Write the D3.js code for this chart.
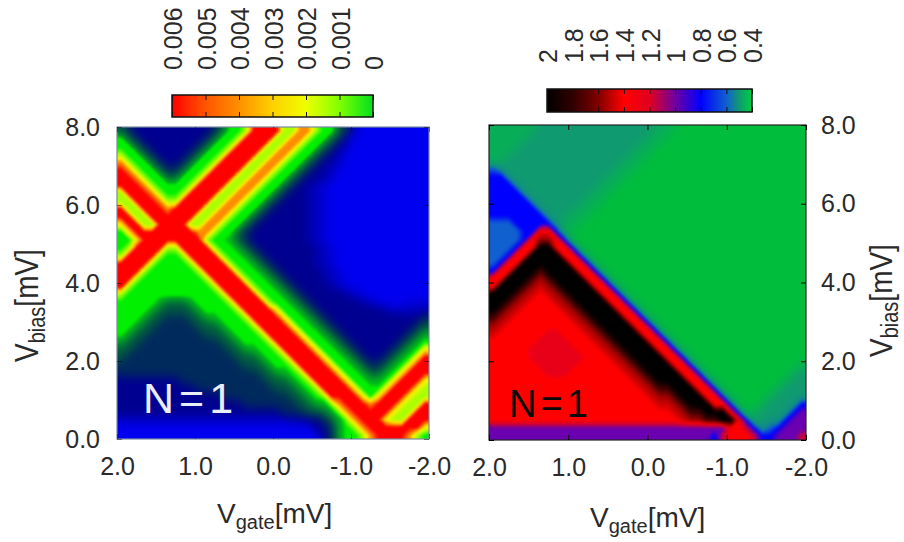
<!DOCTYPE html>
<html>
<head>
<meta charset="utf-8">
<script src="https://d3js.org/d3.v7.min.js"></script>
<style>
  body { margin: 0; background: #fff; }
  text { font-family: "Liberation Sans", sans-serif; fill: #2a2a2a; }
</style>
</head>
<body>
<div class="container"></div>
<script>
// axis values, same for both maps
const gateTicks = [2, 1, 0, -1, -2];
const gateLabels = ["2.0", "1.0", "0.0", "-1.0", "-2.0"];
const biasTicks = [8, 6, 4, 2, 0];
const biasLabels = ["8.0", "6.0", "4.0", "2.0", "0.0"];

// colour bars
const leftBarValues = [0.006, 0.005, 0.004, 0.003, 0.002, 0.001, 0];
const leftBarLabels = ["0.006", "0.005", "0.004", "0.003", "0.002", "0.001", "0"];
const leftBarColors = ["#ff0000", "#ff5500", "#ff9000", "#ffd000", "#eeff00", "#80ff00", "#00e020"];

const rightBarTicks = [2, 1.8, 1.6, 1.4, 1.2, 1, 0.8, 0.6, 0.4];
const rightBarLabels = ["2", "1.8", "1.6", "1.4", "1.2", "1", "0.8", "0.6", "0.4"];
const rightBarValues = [2, 1.8, 1.6, 1.4, 1.2, 1, 0.8, 0.6, 0.5, 0.4];
const rightBarColors = ["#000000", "#300000", "#800000", "#ff0000", "#e00020", "#7000a0", "#0000ff", "#1060d0", "#109a70", "#00d040"];

// colour of each level used in the two grids below
const leftLevelColors = ["#0000f0", "#000090", "#002a5c", "#005a40", "#00aa20", "#00f000", "#aaff00", "#fff000", "#ff8c00", "#ff0000"];
const rightLevelColors = ["#00bd3c", "#08ad58", "#109a70", "#1060d0", "#0000ff", "#6a00b0", "#d00030", "#ff0000", "#a00000", "#400000", "#000000"];

// maps, top row first, ten cells per block
// one hex digit = one level, w x y r t = levels 0.25, 0.5, 0.75, 6.5, 7.5
const leftRows = [
  "3211111111 1123556999 9668865532 x000000000",
  "5321111111 1235569999 668865532x 0000000000",
  "5532111111 2355699996 688655321x 0000000000",
  "6553211112 3556999966 88655321x0 0000000000",
  "8655321123 5569999668 8655321yx0 0000000000",
  "9865532235 5699996688 655321yx00 0000000000",
  "9986553355 6999966886 553211yx00 0000000000",
  "9998655556 9999668865 5321yxw000 0000000000",
  "6999865569 9996688655 3211yxw000 0000000000",
  "6699986699 9966886553 2111yxw000 0000000000",
  "9669998999 9668865532 1111yxw000 0000000000",
  "9966999999 6688655321 1111yxw000 0000000000",
  "7996699996 6886553211 1111yxw000 0000000000",
  "5799999999 8865532111 1111yxw000 0000000000",
  "5579999999 9655432111 1111yxw000 0000000000",
  "5699996699 9965543211 11111yxw00 0000000000",
  "6999965569 9996554321 11111yxw00 0000000000",
  "9999655556 9999655432 11111yxw00 0000000000",
  "9996555555 6999965543 211111yxw0 0000000000",
  "9965555555 5699996554 321111yxw0 0000000000",
  "9655555555 5569999655 4321111yxw 0000000000",
  "6555555555 5556999965 543211111y xw00000000",
  "5555543334 5555699996 5543211111 1yxw000www",
  "5555433333 4555569999 7554321111 1111yxxxxy",
  "5554332223 3445556999 9755432111 1111111112",
  "5543322222 3334555699 9975543211 1111111123",
  "5433222222 2333455569 9997554321 1111111234",
  "4332222222 2223345556 9999755432 1111112345",
  "3322222222 2222334455 6999975543 2111123457",
  "3222222222 2222233345 5699997554 3211234579",
  "2222222222 2222223334 5569999755 4322345799",
  "2222222222 2222222233 4456999975 5433457999",
  "1111111122 2222222223 3345699997 5544579997",
  "1111111111 2222222222 3334569999 7555799976",
  "1111111111 1112222222 2233456999 9757999766",
  "1111111111 1111112222 2223344689 9989997669",
  "1111111111 1111111111 1222333468 9999976699",
  "xxxxxxxxxx xxxxxxxxxx xxyy112346 8999766999",
  "0000000000 0000000000 0000011245 6899999997",
  "0000000000 0000000000 0000001245 5689999865"
];

const rightRows = [
  "1111112222 2222222222 211x000000 0000000000",
  "1111122222 2222222222 11x0000000 0000000000",
  "1111222222 2222222221 1x00000000 0000000000",
  "1112222222 2222222211 x000000000 0000000000",
  "1122222222 222222211x 0000000000 0000000000",
  "3222222222 22222211x0 0000000000 0000000000",
  "4422222222 2222211x00 0000000000 0000000000",
  "4442222222 222211x000 0000000000 0000000000",
  "4444222222 22211x0000 0000000000 0000000000",
  "4444422222 2211x00000 0000000000 0000000000",
  "4444442222 211x000000 0000000000 0000000000",
  "4444444222 11x0000000 0000000000 0000000000",
  "3334444421 1x00000000 0000000000 0000000000",
  "3333447741 x000000000 0000000000 0000000000",
  "3333478874 0000000000 0000000000 0000000000",
  "333477aa77 4000000000 0000000000 0000000000",
  "33477aaaa7 7400000000 0000000000 0000000000",
  "3477aaaaaa 7740000000 0000000000 0000000000",
  "477aaa9aaa a774000000 0000000000 0000000000",
  "77aaa989aa aa77400000 0000000000 0000000000",
  "7aaa98t89a aaa7740000 0000000000 0000000000",
  "aaa98t7t89 aaaa774000 0000000000 0000000000",
  "aa98t777t8 9aaaa77400 0000000000 0000000000",
  "a98t77777t 89aaaa7740 0000000000 0000000000",
  "98t7777777 t89aaaa774 0000000000 0000000000",
  "8t77777777 7t89aaaa77 4000000000 0000000000",
  "t777777rr7 77t89aaaa7 7400000000 0000000000",
  "777777rrrr 777t89aaaa 7740000000 0000000000",
  "77777rrrrr r777t89aaa a774000000 0000000000",
  "77777rrrrr rr777t89aa aa77400000 0000000000",
  "777777rrrr r77777t89a aaa7740000 0000000001",
  "7777777rrr 7777777t89 aaaa774000 0000000012",
  "7777777777 77777777t8 9aaaa77400 0000000122",
  "7777777777 777777777t 899aaa7740 0000001222",
  "7777777777 7777777777 t889aaa774 0000012222",
  "7777777777 7777777777 7tt89aaa77 4000122224",
  "7777777777 7777777777 777t899aaa 7401222245",
  "7777777777 7777777777 7777t8899a a741222455",
  "5555555555 5555555555 5555555555 7764234555",
  "5555555555 5555555555 5555555546 7776445556"
];

const WIDTH = 904;
const HEIGHT = 542;
const GRID = 40;

var svg = d3.select(".container").append("svg")
  .attr("width", WIDTH)
  .attr("height", HEIGHT);

var defs = svg.append("defs");

var translate = function (x, y) {
  return "translate(" + x + "," + y + ")";
};

var fractions = { w: 0.25, x: 0.5, y: 0.75, r: 6.5, t: 7.5 };

var parseRows = function (rows) {
  var values = [];
  rows.forEach(function (row) {
    row.replace(/ /g, "").split("").forEach(function (ch) {
      values.push(ch in fractions ? fractions[ch] : parseInt(ch, 16));
    });
  });
  return values;
};

// V<sub>name</sub>[mV] axis title
var axisTitle = function (transform, name) {
  var title = svg.append("text")
    .attr("transform", transform)
    .style("font-size", "28px");
  title.append("tspan").text("V");
  title.append("tspan").attr("dy", "0.28em").style("font-size", "20px").text(name);
  title.append("tspan").attr("dy", "-0.2em").text("[mV]");
};

var styleAxis = function (group, stroke, tickOpacity) {
  group.select(".domain").attr("stroke", "none");
  group.selectAll(".tick line").attr("stroke", stroke).attr("stroke-opacity", tickOpacity);
  group.selectAll("text").style("font-size", "25px").attr("fill", "#2a2a2a");
};

var drawMap = function (panel) {
  var x = d3.scaleLinear().domain([2, -2]).range([panel.x0, panel.x1]);
  var y = d3.scaleLinear().domain([0, 8]).range([panel.y1, panel.y0]);
  var gridX = d3.scaleLinear().domain([0, GRID]).range([panel.x0, panel.x1]);
  var gridY = d3.scaleLinear().domain([0, GRID]).range([panel.y0, panel.y1]);

  var maxLevel = panel.colors.length - 1;
  var color = d3.scaleLinear().domain(d3.range(maxLevel + 1)).range(panel.colors);

  var thresholds = d3.range(0.125, maxLevel, 0.25);
  var contours = d3.contours().size([GRID, GRID]).thresholds(thresholds)(parseRows(panel.rows));

  // push the outer edge past the clip so the blur does not fade at the frame
  var stretch = function (v) {
    return v <= 0 ? -3 : v >= GRID ? GRID + 3 : v;
  };
  var path = d3.geoPath(d3.geoTransform({
    point: function (px, py) { this.stream.point(gridX(stretch(px)), gridY(stretch(py))); }
  }));

  defs.append("clipPath").attr("id", panel.id)
    .append("rect")
    .attr("x", panel.x0).attr("y", panel.y0)
    .attr("width", panel.x1 - panel.x0).attr("height", panel.y1 - panel.y0);

  var plot = svg.append("g").attr("clip-path", "url(#" + panel.id + ")");
  plot.append("rect")
    .attr("x", panel.x0).attr("y", panel.y0)
    .attr("width", panel.x1 - panel.x0).attr("height", panel.y1 - panel.y0)
    .attr("fill", panel.colors[0]);

  // the low levels change slowly in the picture, they get the wider blur
  var drawLevels = function (data, blur) {
    plot.append("g")
      .style("filter", "blur(" + blur + "px)")
      .selectAll("path")
      .data(data)
      .enter().append("path")
      .attr("d", path)
      .attr("fill", function (d) { return color(d.value + 0.125); });
  };
  drawLevels(contours.filter(function (d) { return d.value < panel.split; }), panel.softBlur);
  drawLevels(contours.filter(function (d) { return d.value >= panel.split; }), panel.sharpBlur);

  // frame
  svg.append("rect")
    .attr("x", panel.x0).attr("y", panel.y0)
    .attr("width", panel.x1 - panel.x0).attr("height", panel.y1 - panel.y0)
    .attr("fill", "none")
    .attr("stroke", panel.frame)
    .attr("stroke-width", 1.2);

  var bottom = svg.append("g").attr("transform", translate(0, panel.y1))
    .call(d3.axisBottom(x).tickValues(gateTicks).tickSize(-5).tickPadding(18)
      .tickFormat(function (d, i) { return gateLabels[i]; }));
  styleAxis(bottom, "#000", panel.tickOpacity);

  var top = svg.append("g").attr("transform", translate(0, panel.y0))
    .call(d3.axisTop(x).tickValues(gateTicks).tickSize(-5).tickFormat(""));
  styleAxis(top, "#000", panel.tickOpacity);

  var left = svg.append("g").attr("transform", translate(panel.x0, 0))
    .call(d3.axisLeft(y).tickValues(biasTicks).tickSize(-5)
      .tickPadding(17).tickFormat(panel.labelsLeft ? function (d, i) { return biasLabels[i]; } : ""));
  styleAxis(left, "#000", panel.tickOpacity);

  var right = svg.append("g").attr("transform", translate(panel.x1, 0))
    .call(d3.axisRight(y).tickValues(biasTicks).tickSize(-5)
      .tickPadding(15).tickFormat(panel.labelsLeft ? "" : function (d, i) { return biasLabels[i]; }));
  styleAxis(right, "#000", panel.tickOpacity);

  svg.append("text")
    .attr("x", panel.noteX).attr("y", panel.noteY)
    .style("font-size", panel.noteSize + "px")
    .style("letter-spacing", panel.noteSpacing + "px")
    .style("fill", panel.noteColor)
    .text("N=1");
};

var drawBar = function (bar) {
  var scale = d3.scaleLinear().domain([bar.values[0], bar.values[bar.values.length - 1]]).range([bar.x0, bar.x1]);

  var gradient = defs.append("linearGradient").attr("id", bar.id);
  bar.values.forEach(function (v, i) {
    gradient.append("stop")
      .attr("offset", (scale(v) - bar.x0) / (bar.x1 - bar.x0))
      .attr("stop-color", bar.colors[i]);
  });

  svg.append("rect")
    .attr("x", bar.x0).attr("y", bar.y0)
    .attr("width", bar.x1 - bar.x0).attr("height", bar.y1 - bar.y0)
    .attr("fill", "url(#" + bar.id + ")")
    .attr("stroke", "#111")
    .attr("stroke-width", 1.5);

  var top = svg.append("g").attr("transform", translate(0, bar.y0))
    .call(d3.axisTop(scale).tickValues(bar.ticks).tickSize(-5).tickPadding(0)
      .tickFormat(function (d, i) { return bar.labels[i]; }));
  styleAxis(top, "#111", 1);
  top.selectAll("text")
    .attr("text-anchor", "start")
    .attr("dy", "0.36em")
    .attr("x", 0)
    .attr("y", 0)
    .attr("transform", "translate(0," + (-bar.gap) + ") rotate(-90) scale(1,1.06)");

  var bottom = svg.append("g").attr("transform", translate(0, bar.y1))
    .call(d3.axisBottom(scale).tickValues(bar.ticks).tickSize(-5).tickFormat(""));
  styleAxis(bottom, "#111", 1);
};

drawBar({
  id: "barLeft", x0: 172, x1: 373, y0: 95, y1: 117, gap: 25,
  values: leftBarValues, colors: leftBarColors, ticks: leftBarValues, labels: leftBarLabels
});
drawBar({
  id: "barRight", x0: 547, x1: 752, y0: 89, y1: 112, gap: 26,
  values: rightBarValues, colors: rightBarColors, ticks: rightBarTicks, labels: rightBarLabels
});

drawMap({
  id: "mapLeft", x0: 117, x1: 429, y0: 127, y1: 439, rows: leftRows, colors: leftLevelColors,
  split: 4.6, softBlur: 4, sharpBlur: 1.3,
  frame: "#7a8aa0", tickOpacity: 0.45, labelsLeft: true,
  noteX: 143, noteY: 413, noteSize: 43, noteSpacing: 5, noteColor: "#e8eefa"
});
drawMap({
  id: "mapRight", x0: 489, x1: 806, y0: 125, y1: 440, rows: rightRows, colors: rightLevelColors,
  split: 2.5, softBlur: 5, sharpBlur: 1.5,
  frame: "#222", tickOpacity: 1, labelsLeft: false,
  noteX: 509, noteY: 417, noteSize: 38, noteSpacing: 4, noteColor: "#0a0a0a"
});

axisTitle("translate(38,362) rotate(-90) scale(1,1.2)", "bias");
axisTitle("translate(892,357) rotate(-90) scale(1,1.15)", "bias");
axisTitle("translate(217,523)", "gate");
axisTitle("translate(590,527)", "gate");
</script>
</body>
</html>
